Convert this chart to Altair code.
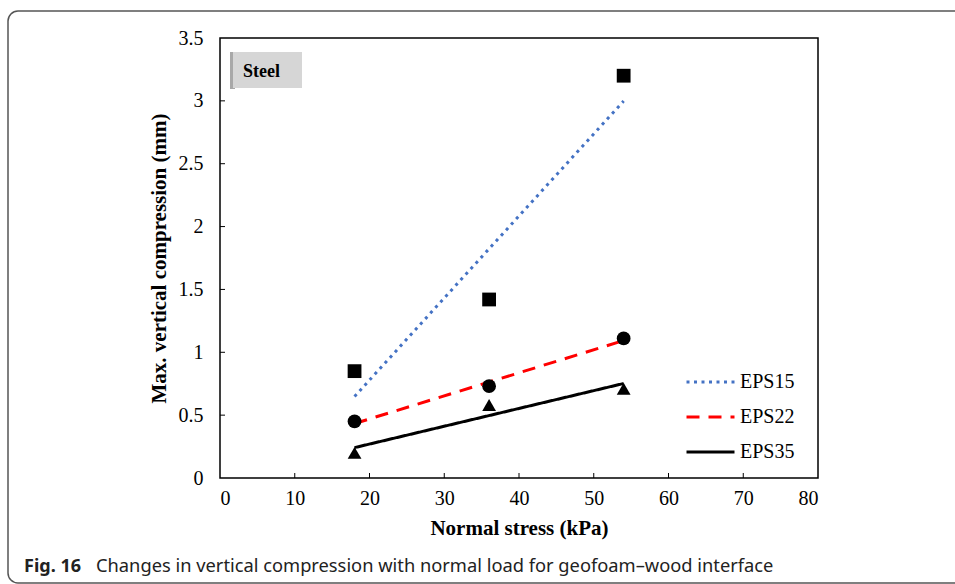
import altair as alt
import pandas as pd

# ---- data ----
stress = [18, 36, 54]
series_names = ["EPS15", "EPS22", "EPS35"]
eps15 = [0.85, 1.42, 3.20]
eps22 = [0.45, 0.73, 1.11]
eps35 = [0.20, 0.58, 0.71]
x_ticks = [10, 20, 30, 40, 50, 60, 70]
y_ticks = [0.5, 1.0, 1.5, 2.0, 2.5, 3.0]
panel_label = "Steel"
caption_bold = "Fig. 16"
caption_text = "Changes in vertical compression with normal load for geofoam\u2013wood interface"

rows = []
for name, vals in zip(series_names, [eps15, eps22, eps35]):
    for s, v in zip(stress, vals):
        rows.append({"stress": s, "comp": v, "series": name, "marker": name + " pts"})
df = pd.DataFrame(rows)
marker_names = [n + " pts" for n in series_names]

W, H = 598, 440
SERIF = "Liberation Serif"
SANS = "Noto Sans"

xscale = alt.Scale(domain=[0, 80], nice=False, zero=False)
yscale = alt.Scale(domain=[0, 3.5], nice=False)
xaxis = alt.Axis(title="Normal stress (kPa)", values=list(range(0, 81, 10)),
                 labelPadding=10, titlePadding=9)
yaxis = alt.Axis(title="Max. vertical compression (mm)", values=[i * 0.5 for i in range(8)],
                 format="~g", labelPadding=17, titlePadding=9)

line_colors = ["#4472C4", "#FF0000", "#000000"]
dashes = [[3, 4.5], [13, 9], [1, 0]]

legend = alt.Legend(title=None, orient="none", legendX=465, legendY=334,
                    symbolType="stroke", symbolSize=2304, symbolStrokeWidth=3,
                    clipHeight=20, rowPadding=15, labelOffset=4, padding=0,
                    labelFont=SERIF, labelFontSize=20, labelColor="black")

lines = alt.Chart(df).transform_regression(
    "stress", "comp", groupby=["series"]
).mark_line(strokeWidth=3).encode(
    x=alt.X("stress:Q", scale=xscale, axis=xaxis),
    y=alt.Y("comp:Q", scale=yscale, axis=yaxis),
    color=alt.Color("series:N", scale=alt.Scale(domain=series_names, range=line_colors), legend=legend),
    strokeDash=alt.StrokeDash("series:N", scale=alt.Scale(domain=series_names, range=dashes), legend=legend),
)

points = alt.Chart(df).mark_point(filled=True, color="black", opacity=1, size=190).encode(
    x=alt.X("stress:Q", scale=xscale, axis=xaxis),
    y=alt.Y("comp:Q", scale=yscale, axis=yaxis),
    shape=alt.Shape("marker:N", scale=alt.Scale(domain=marker_names,
                                                  range=["square", "circle", "triangle-up"]), legend=None),
)

xt = alt.Chart(pd.DataFrame({"stress": x_ticks})).mark_rule(color="black", strokeWidth=1).encode(
    x=alt.X("stress:Q", scale=xscale, axis=xaxis),
    y=alt.value(H), y2=alt.value(H - 5),
)
yt = alt.Chart(pd.DataFrame({"comp": y_ticks})).mark_rule(color="black", strokeWidth=1).encode(
    y=alt.Y("comp:Q", scale=yscale, axis=yaxis),
    x=alt.value(0), x2=alt.value(5),
)

one = pd.DataFrame({"k": [0]})
frame = alt.Chart(one).mark_rect(filled=False, stroke="#555555", strokeWidth=1.5, cornerRadius=10).encode(
    x=alt.value(-212), x2=alt.value(760), y=alt.value(-27), y2=alt.value(545)
)
shadow = alt.Chart(one).mark_rect(color="#a8a8a8").encode(
    x=alt.value(10), x2=alt.value(15), y=alt.value(14), y2=alt.value(51)
)
box = alt.Chart(one).mark_rect(color="#d6d6d6").encode(
    x=alt.value(13), x2=alt.value(82), y=alt.value(14), y2=alt.value(50)
)
steel = alt.Chart(one).mark_text(text=panel_label, font=SERIF, fontWeight="bold", fontSize=18,
                                 align="left", baseline="alphabetic", color="black").encode(
    x=alt.value(23), y=alt.value(39)
)
cap1 = alt.Chart(one).mark_text(text=caption_bold, font=SANS, fontWeight="bold", fontSize=18,
                                align="left", baseline="alphabetic", color="#222222").encode(
    x=alt.value(-196), y=alt.value(534)
)
cap2 = alt.Chart(one).mark_text(text=caption_text, font=SANS, fontSize=18.3,
                                align="left", baseline="alphabetic", color="#222222").encode(
    x=alt.value(-124), y=alt.value(534)
)

chart = alt.layer(frame, shadow, box, steel, xt, yt, lines, points, cap1, cap2).properties(
    width=W, height=H,
    autosize=alt.AutoSizeParams(type="none"),
    padding={"left": 220, "top": 38, "right": 137, "bottom": 106},
    background="white",
).configure_view(
    stroke="black", strokeWidth=1.5
).configure_axis(
    domain=False, ticks=False, grid=False,
    labelFont=SERIF, labelFontSize=20, labelColor="black",
    titleFont=SERIF, titleFontSize=21, titleFontWeight="bold", titleColor="black",
)

chart.save("out.html", embed_options={"renderer": "svg", "actions": False})
